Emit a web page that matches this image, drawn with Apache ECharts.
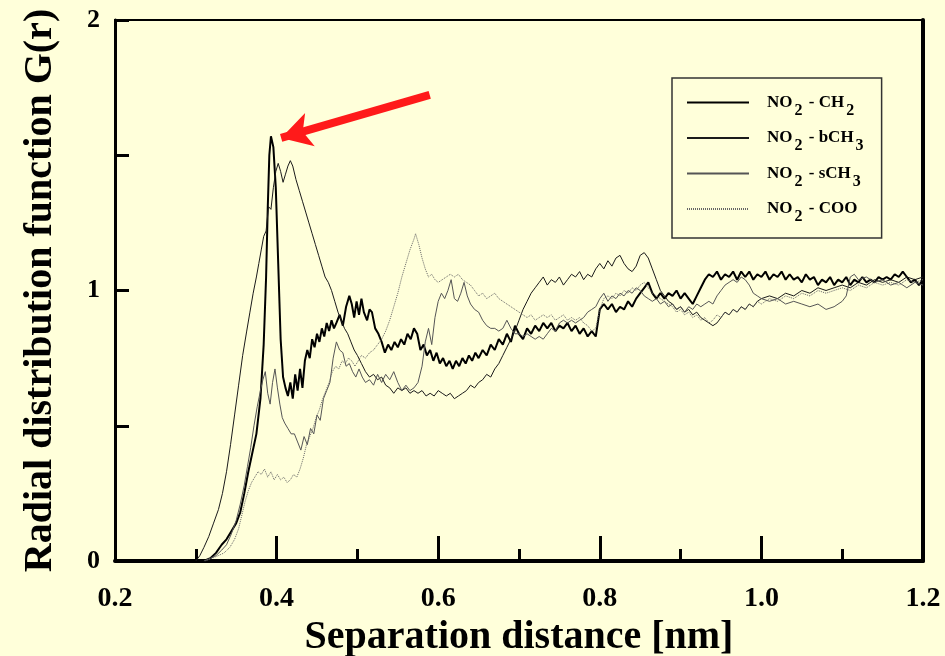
<!DOCTYPE html>
<html>
<head>
<meta charset="utf-8">
<script src="https://cdn.jsdelivr.net/npm/echarts@6/dist/echarts.min.js"></script>
<style>
  html, body { margin: 0; padding: 0; background: #FFFFDA; }
  #charts { width: 945px; height: 656px; }
</style>
</head>
<body>
<div id="charts"></div>
<script>
// series values: [r (nm), G(r)]
var ch2Data = [
  [0.300,0],[0.310,0.0],[0.318,0.01],[0.325,0.03],[0.332,0.06],[0.338,0.08],[0.344,0.11],[0.350,0.14],[0.355,0.18],[0.360,0.25],
  [0.365,0.33],[0.370,0.40],[0.375,0.47],[0.380,0.60],[0.384,0.80],[0.387,1.05],[0.389,1.30],[0.391,1.50],[0.393,1.57],[0.396,1.53],
  [0.399,1.38],[0.402,1.10],[0.405,0.82],[0.408,0.68],[0.411,0.64],[0.414,0.61],[0.417,0.66],[0.420,0.60],[0.423,0.69],[0.426,0.63],
  [0.429,0.71],[0.432,0.64],[0.435,0.74],[0.438,0.78],[0.441,0.75],[0.444,0.82],[0.447,0.79],[0.450,0.84],[0.453,0.81],[0.456,0.86],
  [0.459,0.83],[0.462,0.88],[0.465,0.85],[0.468,0.89],[0.471,0.86],[0.474,0.88],[0.478,0.91],[0.482,0.87],[0.486,0.94],[0.490,0.98],
  [0.493,0.95],[0.496,0.90],[0.499,0.96],[0.502,0.91],[0.505,0.97],[0.508,0.92],[0.512,0.89],[0.515,0.93],[0.518,0.92],[0.522,0.86],
  [0.526,0.84],[0.530,0.81],[0.534,0.77],[0.538,0.80],[0.542,0.78],[0.546,0.81],[0.550,0.79],[0.554,0.82],[0.558,0.80],[0.562,0.84],
  [0.566,0.82],[0.570,0.86],[0.574,0.84],[0.578,0.78],[0.582,0.80],[0.586,0.76],[0.590,0.78],[0.594,0.74],[0.598,0.77],[0.602,0.73],
  [0.606,0.75],[0.610,0.72],[0.614,0.74],[0.618,0.71],[0.622,0.74],[0.626,0.72],[0.630,0.75],[0.634,0.73],[0.638,0.76],[0.642,0.74],
  [0.646,0.77],[0.650,0.75],[0.655,0.78],[0.660,0.76],[0.665,0.80],[0.670,0.78],[0.675,0.82],[0.680,0.80],[0.685,0.84],[0.690,0.81],
  [0.695,0.87],[0.700,0.84],[0.705,0.82],[0.710,0.86],[0.715,0.84],[0.720,0.87],[0.725,0.85],[0.730,0.88],[0.735,0.86],[0.740,0.88],
  [0.745,0.85],[0.750,0.87],[0.755,0.86],[0.760,0.88],[0.765,0.85],[0.770,0.87],[0.775,0.84],[0.780,0.86],[0.785,0.83],[0.790,0.85],
  [0.795,0.83],[0.800,0.93],[0.805,0.95],[0.810,0.93],[0.815,0.95],[0.820,0.92],[0.825,0.94],[0.830,0.93],[0.835,0.96],[0.840,0.94],
  [0.845,0.97],[0.850,0.99],[0.855,1.01],[0.860,1.03],[0.865,0.99],[0.870,0.97],[0.875,0.99],[0.880,0.97],[0.885,0.99],[0.890,0.98],
  [0.895,1.00],[0.900,0.97],[0.905,0.99],[0.910,0.97],[0.915,0.95],[0.920,0.98],[0.925,1.01],[0.930,1.04],[0.935,1.06],[0.940,1.05],
  [0.945,1.07],[0.950,1.04],[0.955,1.06],[0.960,1.05],[0.965,1.07],[0.970,1.04],[0.975,1.07],[0.980,1.05],[0.985,1.07],[0.990,1.04],
  [0.995,1.06],[1.000,1.05],[1.005,1.07],[1.010,1.04],[1.015,1.06],[1.020,1.05],[1.025,1.07],[1.030,1.04],[1.035,1.06],[1.040,1.04],
  [1.045,1.05],[1.050,1.03],[1.055,1.06],[1.060,1.04],[1.065,1.05],[1.070,1.02],[1.075,1.04],[1.080,1.03],[1.085,1.05],[1.090,1.02],
  [1.095,1.04],[1.100,1.03],[1.105,1.05],[1.110,1.02],[1.115,1.04],[1.120,1.03],[1.125,1.05],[1.130,1.03],[1.135,1.04],[1.140,1.03],
  [1.145,1.05],[1.150,1.04],[1.155,1.05],[1.160,1.04],[1.165,1.06],[1.170,1.05],[1.175,1.07],[1.180,1.05],[1.185,1.03],[1.190,1.04],
  [1.195,1.02],[1.200,1.04]
];
var bch3Data = [
  [0.300,0],[0.305,0.02],[0.310,0.05],[0.316,0.09],[0.322,0.14],[0.328,0.19],[0.333,0.25],[0.338,0.33],[0.343,0.43],[0.348,0.54],
  [0.353,0.65],[0.358,0.76],[0.363,0.85],[0.367,0.92],[0.371,0.99],[0.375,1.05],[0.378,1.10],[0.381,1.15],[0.384,1.20],[0.387,1.22],
  [0.390,1.31],[0.393,1.30],[0.396,1.38],[0.399,1.44],[0.402,1.47],[0.405,1.44],[0.408,1.40],[0.411,1.43],[0.414,1.46],[0.417,1.48],
  [0.420,1.46],[0.424,1.41],[0.428,1.37],[0.432,1.33],[0.436,1.29],[0.440,1.25],[0.444,1.21],[0.448,1.17],[0.452,1.13],[0.456,1.09],
  [0.460,1.05],[0.464,1.03],[0.468,1.00],[0.472,0.96],[0.476,0.92],[0.480,0.89],[0.484,0.86],[0.488,0.84],[0.492,0.81],[0.496,0.78],
  [0.500,0.76],[0.505,0.73],[0.510,0.70],[0.515,0.68],[0.520,0.69],[0.525,0.67],[0.530,0.68],[0.535,0.65],[0.540,0.64],[0.545,0.62],
  [0.550,0.64],[0.555,0.63],[0.560,0.64],[0.565,0.62],[0.570,0.63],[0.575,0.62],[0.580,0.63],[0.585,0.61],[0.590,0.62],[0.595,0.61],
  [0.600,0.63],[0.605,0.62],[0.610,0.61],[0.615,0.62],[0.620,0.60],[0.625,0.61],[0.630,0.62],[0.635,0.63],[0.640,0.65],[0.645,0.64],
  [0.650,0.66],[0.655,0.67],[0.660,0.69],[0.665,0.68],[0.670,0.71],[0.675,0.73],[0.680,0.76],[0.685,0.79],[0.690,0.82],[0.695,0.85],
  [0.700,0.89],[0.705,0.93],[0.710,0.96],[0.715,0.99],[0.720,1.01],[0.725,1.03],[0.730,1.05],[0.735,1.02],[0.740,1.04],[0.745,1.03],
  [0.750,1.05],[0.755,1.02],[0.760,1.04],[0.765,1.06],[0.770,1.05],[0.775,1.07],[0.780,1.04],[0.785,1.06],[0.790,1.05],[0.795,1.08],
  [0.800,1.10],[0.805,1.08],[0.810,1.11],[0.815,1.09],[0.820,1.12],[0.825,1.13],[0.830,1.10],[0.835,1.08],[0.840,1.07],[0.845,1.09],
  [0.850,1.13],[0.855,1.14],[0.860,1.12],[0.865,1.08],[0.870,1.04],[0.875,1.00],[0.880,0.98],[0.885,0.96],[0.890,0.95],[0.895,0.93],
  [0.900,0.94],[0.905,0.92],[0.910,0.93],[0.915,0.91],[0.920,0.92],[0.925,0.90],[0.930,0.89],[0.935,0.88],[0.940,0.87],[0.945,0.88],
  [0.950,0.90],[0.955,0.92],[0.960,0.91],[0.965,0.93],[0.970,0.92],[0.975,0.94],[0.980,0.93],[0.985,0.95],[0.990,0.94],[0.995,0.96],
  [1.000,0.97],[1.010,0.98],[1.020,0.97],[1.030,0.99],[1.040,0.98],[1.050,1.00],[1.060,0.99],[1.070,1.01],[1.080,1.00],[1.090,1.01],
  [1.100,1.02],[1.110,1.01],[1.120,1.03],[1.130,1.02],[1.140,1.04],[1.150,1.03],[1.160,1.04],[1.170,1.03],[1.180,1.05],[1.190,1.04],
  [1.200,1.05]
];
var sch3Data = [
  [0.310,0],[0.318,0.01],[0.325,0.02],[0.332,0.04],[0.338,0.06],[0.344,0.10],[0.350,0.15],[0.355,0.21],[0.360,0.28],[0.364,0.35],
  [0.368,0.42],[0.372,0.50],[0.376,0.57],[0.380,0.63],[0.383,0.67],[0.386,0.70],[0.389,0.62],[0.392,0.58],[0.395,0.66],[0.398,0.71],
  [0.401,0.64],[0.404,0.58],[0.407,0.53],[0.410,0.51],[0.414,0.49],[0.418,0.47],[0.422,0.47],[0.426,0.44],[0.430,0.41],[0.434,0.46],
  [0.438,0.43],[0.442,0.49],[0.446,0.47],[0.450,0.54],[0.454,0.52],[0.458,0.60],[0.462,0.63],[0.466,0.66],[0.470,0.75],[0.474,0.81],
  [0.478,0.78],[0.482,0.77],[0.486,0.72],[0.490,0.73],[0.494,0.70],[0.498,0.68],[0.502,0.71],[0.506,0.68],[0.510,0.66],[0.515,0.67],
  [0.520,0.65],[0.525,0.69],[0.530,0.66],[0.535,0.69],[0.540,0.67],[0.545,0.70],[0.550,0.66],[0.555,0.63],[0.560,0.65],[0.565,0.63],
  [0.570,0.64],[0.575,0.66],[0.580,0.72],[0.584,0.81],[0.588,0.86],[0.592,0.80],[0.596,0.90],[0.600,0.96],[0.604,0.99],[0.608,0.97],
  [0.612,1.00],[0.616,1.04],[0.620,0.97],[0.624,0.96],[0.628,0.99],[0.632,1.03],[0.636,0.98],[0.640,0.95],[0.645,0.93],[0.650,0.92],
  [0.655,0.89],[0.660,0.87],[0.665,0.86],[0.670,0.86],[0.675,0.85],[0.680,0.86],[0.685,0.89],[0.690,0.86],[0.695,0.84],[0.700,0.84],
  [0.705,0.83],[0.710,0.84],[0.715,0.83],[0.720,0.82],[0.725,0.83],[0.730,0.82],[0.735,0.84],[0.740,0.86],[0.745,0.85],[0.750,0.88],
  [0.755,0.89],[0.760,0.88],[0.765,0.89],[0.770,0.88],[0.775,0.89],[0.780,0.90],[0.785,0.92],[0.790,0.93],[0.795,0.94],[0.800,0.97],
  [0.805,0.99],[0.810,0.96],[0.815,0.98],[0.820,0.97],[0.825,0.99],[0.830,0.98],[0.835,1.00],[0.840,0.99],[0.845,1.01],[0.850,1.00],
  [0.855,0.98],[0.860,0.97],[0.865,0.96],[0.870,0.97],[0.875,0.95],[0.880,0.96],[0.885,0.94],[0.890,0.95],[0.895,0.93],[0.900,0.94],
  [0.905,0.92],[0.910,0.94],[0.915,0.93],[0.920,0.95],[0.925,0.94],[0.930,0.95],[0.935,0.96],[0.940,0.95],[0.945,0.98],[0.950,1.00],
  [0.955,1.02],[0.960,1.03],[0.965,1.04],[0.970,1.03],[0.975,1.05],[0.980,1.04],[0.985,1.02],[0.990,0.99],[0.995,0.98],[1.000,0.97],
  [1.010,0.96],[1.020,0.97],[1.030,0.95],[1.040,0.96],[1.050,0.95],[1.060,0.94],[1.070,0.95],[1.080,0.93],[1.090,0.94],[1.100,0.96],
  [1.105,0.98],[1.110,1.05],[1.115,1.06],[1.120,1.04],[1.130,1.05],[1.140,1.03],[1.150,1.04],[1.160,1.02],[1.170,1.03],[1.180,1.01],
  [1.190,1.03],[1.200,1.02]
];
var cooData = [
  [0.312,0],[0.320,0.01],[0.328,0.02],[0.335,0.03],[0.342,0.05],[0.348,0.08],[0.353,0.12],[0.357,0.17],[0.361,0.22],[0.365,0.26],
  [0.369,0.29],[0.373,0.31],[0.377,0.33],[0.381,0.32],[0.385,0.34],[0.389,0.31],[0.393,0.33],[0.397,0.30],[0.401,0.32],[0.405,0.30],
  [0.409,0.31],[0.413,0.29],[0.417,0.30],[0.421,0.32],[0.425,0.31],[0.429,0.34],[0.433,0.38],[0.437,0.43],[0.441,0.46],[0.445,0.49],
  [0.449,0.53],[0.453,0.56],[0.457,0.60],[0.461,0.63],[0.465,0.66],[0.469,0.70],[0.473,0.72],[0.477,0.71],[0.481,0.74],[0.485,0.73],
  [0.489,0.75],[0.493,0.74],[0.497,0.72],[0.501,0.74],[0.505,0.76],[0.510,0.75],[0.515,0.77],[0.520,0.78],[0.525,0.80],[0.530,0.82],
  [0.535,0.85],[0.540,0.89],[0.545,0.94],[0.550,0.99],[0.555,1.05],[0.560,1.10],[0.565,1.15],[0.570,1.19],[0.572,1.21],[0.576,1.17],
  [0.580,1.12],[0.584,1.08],[0.588,1.05],[0.592,1.06],[0.596,1.04],[0.600,1.03],[0.605,1.04],[0.610,1.05],[0.615,1.06],[0.620,1.05],
  [0.625,1.06],[0.630,1.04],[0.635,1.03],[0.640,1.02],[0.645,1.00],[0.650,0.98],[0.655,0.99],[0.660,0.97],[0.665,0.98],[0.670,0.99],
  [0.675,0.97],[0.680,0.96],[0.685,0.95],[0.690,0.94],[0.695,0.93],[0.700,0.92],[0.705,0.91],[0.710,0.90],[0.715,0.91],[0.720,0.89],
  [0.725,0.90],[0.730,0.91],[0.735,0.90],[0.740,0.91],[0.745,0.89],[0.750,0.90],[0.755,0.91],[0.760,0.89],[0.765,0.90],[0.770,0.89],
  [0.775,0.90],[0.780,0.88],[0.785,0.87],[0.790,0.85],[0.795,0.86],[0.800,0.93],[0.805,0.97],[0.810,0.98],[0.815,0.97],[0.820,0.99],
  [0.825,0.98],[0.830,1.00],[0.835,0.99],[0.840,1.01],[0.845,1.00],[0.850,1.02],[0.855,1.03],[0.860,1.01],[0.865,0.99],[0.870,0.98],
  [0.875,0.97],[0.880,0.96],[0.885,0.95],[0.890,0.94],[0.895,0.92],[0.900,0.93],[0.905,0.91],[0.910,0.92],[0.915,0.90],[0.920,0.91],
  [0.925,0.89],[0.930,0.90],[0.935,0.88],[0.940,0.89],[0.945,0.91],[0.950,0.90],[0.955,0.92],[0.960,0.91],[0.965,0.93],[0.970,0.92],
  [0.975,0.94],[0.980,0.93],[0.985,0.95],[0.990,0.94],[0.995,0.96],[1.000,0.95],[1.010,0.97],[1.020,0.96],[1.030,0.98],[1.040,0.97],
  [1.050,0.99],[1.060,0.98],[1.070,1.00],[1.080,0.99],[1.090,1.00],[1.100,1.01],[1.110,1.00],[1.120,1.02],[1.130,1.01],[1.140,1.03],
  [1.150,1.02],[1.160,1.03],[1.170,1.02],[1.180,1.04],[1.190,1.03],[1.200,1.04]
];
// legend labels (rich text for subscripts)
var seriesNames = ['NO2 - CH2', 'NO2 - bCH3', 'NO2 - sCH3', 'NO2 - COO'];
var legendLabels = {
  'NO2 - CH2': '{g|}NO{s|2} - CH{s|2}',
  'NO2 - bCH3': '{g|}NO{s|2} - bCH{s|3}',
  'NO2 - sCH3': '{g|}NO{s|2} - sCH{s|3}',
  'NO2 - COO': '{g|}NO{s|2} - COO'
};
// red arrow pointing at the first peak: [start, tip]
var arrowFrom = [0.5895, 1.723];
var arrowTo = [0.4056, 1.564];

var serif = '"Liberation Serif", "DejaVu Serif", serif';
var myChart = echarts.init(document.getElementById('charts'));
myChart.setOption({
  backgroundColor: '#FFFFDA',
  animation: false,
  grid: {
    left: 115, right: 22, top: 20, bottom: 95,
    outerBoundsMode: 'none', containLabel: false,
    show: true, borderColor: '#000', borderWidth: 2, backgroundColor: 'transparent'
  },
  legend: {
    data: seriesNames,
    orient: 'vertical',
    left: 672, top: 78,
    padding: [16, 18, 13, 14],
    itemWidth: 62, itemHeight: 20, itemGap: 11, itemTextGap: 6,
    backgroundColor: '#FFFFDA',
    borderColor: '#333', borderWidth: 1.5,
    itemStyle: { opacity: 0 },
    formatter: function (name) { return legendLabels[name]; },
    textStyle: {
      fontFamily: serif, fontWeight: 'bold', fontSize: 17, color: '#000',
      rich: {
        g: { width: 13 },
        s: { fontFamily: serif, fontWeight: 'bold', fontSize: 16, color: '#000', padding: [16, 2, 0, 2] }
      }
    }
  },
  xAxis: [{
    type: 'value', min: 0.2, max: 1.2, interval: 0.2,
    name: 'Separation distance [nm]', nameLocation: 'middle', nameGap: 54,
    nameTextStyle: { fontFamily: serif, fontWeight: 'bold', fontSize: 40, color: '#000' },
    axisLine: { show: true, onZero: false, lineStyle: { color: '#000', width: 4 } },
    axisTick: { show: true, inside: true, length: 25, lineStyle: { color: '#000', width: 3 } },
    minorTick: { show: true, splitNumber: 2, length: 12, lineStyle: { color: '#000', width: 3 } },
    splitLine: { show: false },
    axisLabel: {
      margin: 24, fontFamily: serif, fontWeight: 'bold', fontSize: 28, color: '#000',
      formatter: function (v) { return v.toFixed(1); }
    }
  }],
  yAxis: [{
    type: 'value', min: 0, max: 2, interval: 1,
    name: 'Radial distribution function G(r)', nameLocation: 'middle', nameGap: 54,
    nameTextStyle: { fontFamily: serif, fontWeight: 'bold', fontSize: 40, color: '#000' },
    axisLine: { show: true, onZero: false, lineStyle: { color: '#000', width: 3 } },
    axisTick: { show: true, inside: true, length: 14, lineStyle: { color: '#000', width: 3 } },
    minorTick: { show: true, splitNumber: 2, length: 14, lineStyle: { color: '#000', width: 3 } },
    splitLine: { show: false },
    axisLabel: { margin: 15, fontFamily: serif, fontWeight: 'bold', fontSize: 26, color: '#000' }
  }, {
    type: 'value', min: 0, max: 2, position: 'right',
    axisLine: { show: true, onZero: false, lineStyle: { color: '#000', width: 4 } },
    axisTick: { show: false }, axisLabel: { show: false }, splitLine: { show: false }
  }],
  series: [
    {
      name: seriesNames[0], type: 'line', data: ch2Data, symbol: 'none',
      lineStyle: { color: '#000', width: 2 },
      markLine: {
        silent: true, symbol: ['none', 'arrow'], symbolSize: [26, 30],
        label: { show: false },
        lineStyle: { color: '#FF1A1A', width: 8, type: 'solid' },
        data: [[{ coord: arrowFrom }, { coord: arrowTo }]]
      }
    },
    { name: seriesNames[1], type: 'line', data: bch3Data, symbol: 'none', lineStyle: { color: '#1a1a1a', width: 1 } },
    { name: seriesNames[2], type: 'line', data: sch3Data, symbol: 'none', lineStyle: { color: '#555', width: 1 } },
    { name: seriesNames[3], type: 'line', data: cooData, symbol: 'none', lineStyle: { color: '#666', width: 1, type: [1, 1] } }
  ]
});
</script>
</body>
</html>
